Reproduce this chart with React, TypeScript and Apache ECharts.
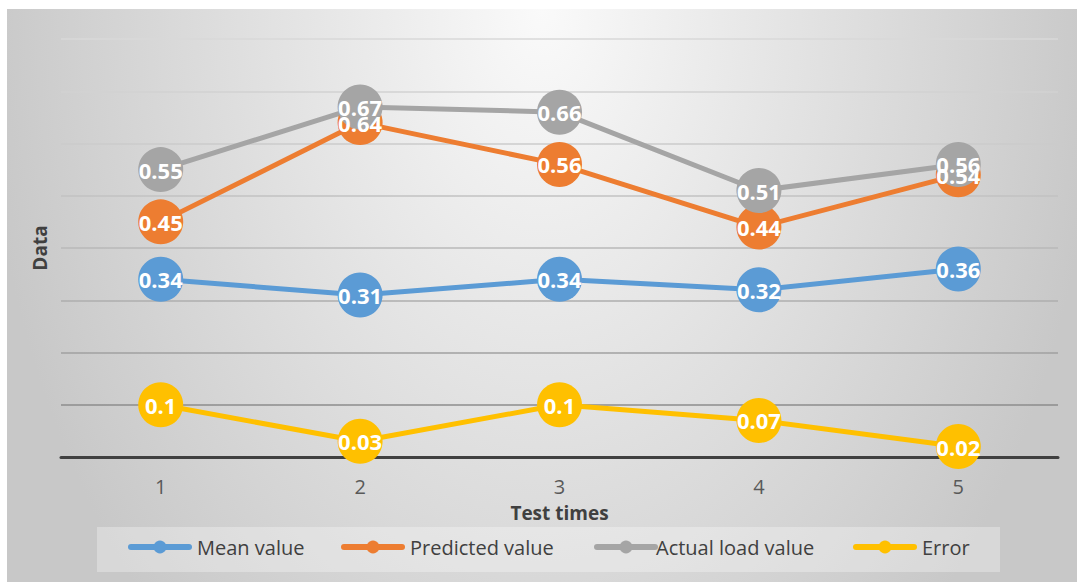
import React, { useEffect, useRef } from "react";
import * as echarts from "echarts";

const categories = ["1", "2", "3", "4", "5"];
const meanValue = [0.34, 0.31, 0.34, 0.32, 0.36];
const predictedValue = [0.45, 0.64, 0.56, 0.44, 0.54];
const actualLoadValue = [0.55, 0.67, 0.66, 0.51, 0.56];
const errorValue = [0.1, 0.03, 0.1, 0.07, 0.02];
const seriesNames = ["Mean value", "Predicted value", "Actual load value", "Error"];
const seriesColors = ["#5B9BD5", "#ED7D31", "#A5A5A5", "#FFC000"];
const seriesData = [meanValue, predictedValue, actualLoadValue, errorValue];

const FONT = "'Open Sans', 'Noto Sans', sans-serif";

export default function App() {
  const ref = useRef<HTMLDivElement>(null);
  useEffect(() => {
    if (!ref.current) return;
    const chart = echarts.init(ref.current, null, { renderer: "svg" });
    const legendLefts = [128, 341, 594, 853];
    const legendPads = [3, 3, -4, 3];
    chart.setOption({
      animation: false,
      backgroundColor: "#ffffff",
      textStyle: { fontFamily: FONT },
      graphic: [
        {
          type: "rect",
          x: 7,
          y: 9,
          scaleX: 1070 / 1605,
          z: -10,
          silent: true,
          shape: { x: 0, y: 0, width: 1605, height: 573 },
          style: {
            fill: {
              type: "radial",
              global: true,
              x: 802,
              y: 0,
              r: 840,
              colorStops: [
                { offset: 0, color: "#fafafa" },
                { offset: 1, color: "#c8c8c8" },
              ],
            },
          },
        },
        {
          type: "rect",
          z: -9,
          silent: true,
          shape: { x: 97, y: 527, width: 903, height: 45 },
          style: { fill: "rgba(255,255,255,0.3)" },
        },
      ],
      grid: { left: 61, right: 19, top: 39, bottom: 125 },
      xAxis: {
        type: "category",
        data: categories,
        boundaryGap: true,
        name: "Test times",
        nameLocation: "middle",
        nameGap: 46,
        nameTextStyle: { fontFamily: FONT, fontSize: 19, fontWeight: "bold", color: "#404040" },
        axisLine: { show: true, lineStyle: { color: "#404040", width: 3 } },
        axisTick: { show: false },
        axisLabel: { fontFamily: FONT, fontSize: 20, color: "#595959", margin: 19 },
        splitLine: { show: false },
      },
      yAxis: {
        type: "value",
        min: 0,
        max: 0.8,
        interval: 0.1,
        name: "Data",
        nameLocation: "middle",
        nameGap: 12,
        nameTextStyle: { fontFamily: FONT, fontSize: 19, fontWeight: "bold", color: "#404040" },
        axisLine: { show: false },
        axisTick: { show: false },
        axisLabel: { show: false },
        splitLine: {
          show: true,
          lineStyle: {
            width: 1.5,
            color: ["#404040", "#8c8c8c", "#a0a0a0", "#aeaeae", "#b8b8b8", "#c2c2c2", "#cbcbcb", "#d2d2d2", "#d8d8d8"],
          },
        },
      },
      legend: seriesNames.map((n, i) => ({
        data: [n],
        left: legendLefts[i],
        top: 537,
        padding: 0,
        itemWidth: 58,
        itemHeight: 16,
        selectedMode: false,
        lineStyle: { width: 6, cap: "round" },
        textStyle: { fontFamily: FONT, fontSize: 20, color: "#404040", padding: [0, 0, 0, legendPads[i]] },
      })),
      series: seriesNames.map((n, i) => ({
        name: n,
        type: "line",
        data: seriesData[i],
        color: seriesColors[i],
        symbol: "circle",
        symbolSize: 45,
        showAllSymbol: true,
        lineStyle: { width: 5, color: seriesColors[i] },
        itemStyle: { color: seriesColors[i] },
        label: {
          show: true,
          position: "inside",
          color: "#ffffff",
          fontFamily: FONT,
          fontSize: 22,
          fontWeight: "bold",
        },
        emphasis: { disabled: true },
      })),
    });
    return () => chart.dispose();
  }, []);
  return <div ref={ref} style={{ position: "fixed", left: 0, top: 0, width: 1077, height: 582 }} />;
}
